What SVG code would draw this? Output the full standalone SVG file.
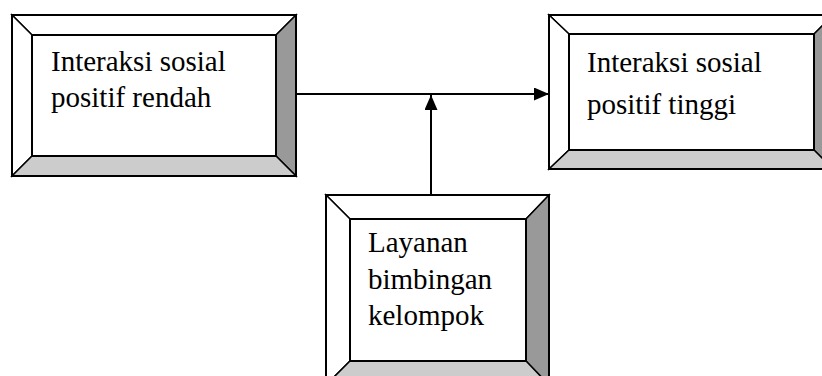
<svg xmlns="http://www.w3.org/2000/svg" width="822" height="376" viewBox="0 0 822 376">
  <style>
    .face { fill: #ffffff; stroke: #000; stroke-width: 2; }
    .lit { fill: #ffffff; stroke: #000; stroke-width: 1.5; stroke-linejoin: miter; }
    .shadeR { fill: #999999; stroke: #000; stroke-width: 1.5; }
    .shadeB { fill: #cccccc; stroke: #000; stroke-width: 1.5; }
    .label { font-family: "Liberation Serif", "Times New Roman", serif; font-size: 29px; fill: #000; }
    .wire { stroke: #000; stroke-width: 2; fill: none; }
  </style>
  <defs>
    <marker id="head" viewBox="0 0 15 13" refX="15" refY="6.5" markerWidth="15" markerHeight="13" markerUnits="userSpaceOnUse" orient="auto">
      <path d="M0,0 L15,6.5 L0,13 Z" fill="#000"/>
    </marker>
  </defs>

  <rect width="822" height="376" fill="#ffffff"/>

  <!-- bevelled box: low positive social interaction -->
  <g id="low">
    <polygon class="lit" points="12,15 296,15 276,35 32,35"/>
    <polygon class="lit" points="12,15 32,35 32,156 12,176"/>
    <polygon class="shadeR" points="296,15 296,176 276,156 276,35"/>
    <polygon class="shadeB" points="12,176 32,156 276,156 296,176"/>
    <rect class="face" x="32" y="35" width="244" height="121"/>
    <rect x="12" y="15" width="284" height="161" fill="none" stroke="#000" stroke-width="2"/>
    <text class="label" x="51" y="71">Interaksi sosial</text>
    <text class="label" x="51" y="107">positif rendah</text>
  </g>

  <!-- bevelled box: high positive social interaction -->
  <g id="high">
    <polygon class="lit" points="549,15 833,15 814,34 569,34"/>
    <polygon class="lit" points="549,15 569,34 569,150 549,169"/>
    <polygon class="shadeR" points="833,15 833,169 814,150 814,34"/>
    <polygon class="shadeB" points="549,169 569,150 814,150 833,169"/>
    <rect class="face" x="569" y="34" width="245" height="116"/>
    <rect x="549" y="15" width="284" height="154" fill="none" stroke="#000" stroke-width="2"/>
    <text class="label" x="587" y="72">Interaksi sosial</text>
    <text class="label" x="587" y="114">positif tinggi</text>
  </g>

  <!-- bevelled box: group guidance service -->
  <g id="guidance">
    <polygon class="lit" points="326,195 549,195 526,219 350,219"/>
    <polygon class="lit" points="326,195 350,219 350,361 326,385"/>
    <polygon class="shadeR" points="549,195 549,385 526,361 526,219"/>
    <polygon class="shadeB" points="326,385 350,361 526,361 549,385"/>
    <rect class="face" x="350" y="219" width="176" height="142"/>
    <rect x="326" y="195" width="223" height="190" fill="none" stroke="#000" stroke-width="2"/>
    <text class="label" x="368" y="252">Layanan</text>
    <text class="label" x="368" y="289">bimbingan</text>
    <text class="label" x="368" y="325">kelompok</text>
  </g>

  <!-- connectors -->
  <g id="connectors">
    <line class="wire" x1="297" y1="94" x2="549" y2="94" marker-end="url(#head)"/>
    <line class="wire" x1="431" y1="195" x2="431" y2="95" marker-end="url(#head)"/>
  </g>
</svg>
